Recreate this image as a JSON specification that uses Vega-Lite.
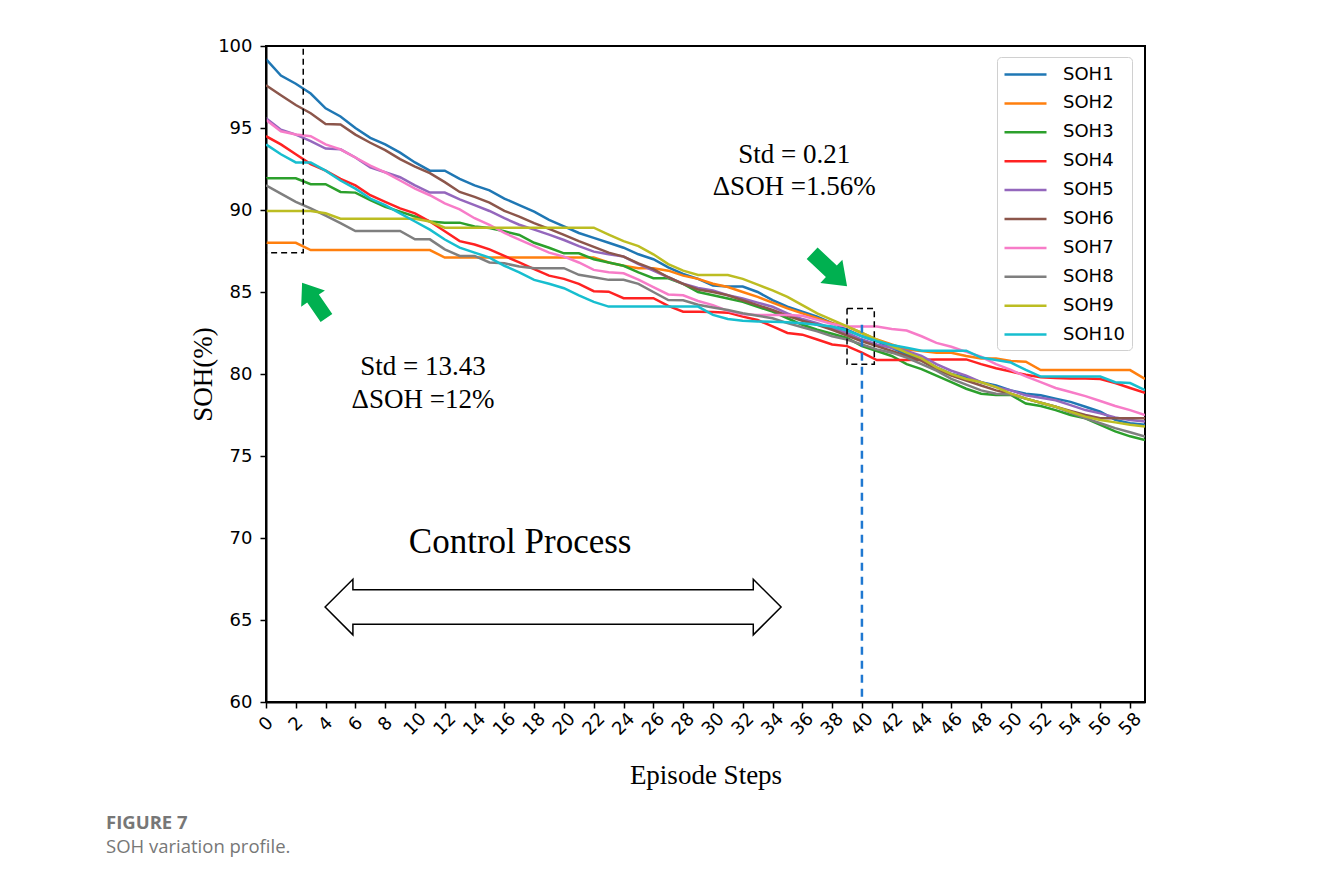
{
  "$schema": "https://vega.github.io/schema/vega-lite/v6.json",
  "width": 879,
  "height": 656,
  "autosize": {"type": "none"},
  "padding": {"left": 266, "top": 46, "right": 185, "bottom": 180},
  "background": "white",
  "title": {
    "text": "FIGURE 7",
    "subtitle": "SOH variation profile.",
    "orient": "bottom",
    "anchor": "start",
    "frame": "group",
    "dx": -160,
    "offset": 26,
    "font": "Open Sans",
    "fontSize": 18.5,
    "fontWeight": "bold",
    "color": "#777777",
    "subtitleFont": "Open Sans",
    "subtitleFontSize": 18.5,
    "subtitleColor": "#777777",
    "subtitlePadding": 5
  },
  "config": {
    "view": {"stroke": "black", "strokeWidth": 2},
    "axis": {
      "grid": false,
      "domainColor": "black",
      "domainWidth": 2,
      "tickColor": "black",
      "tickWidth": 1.5,
      "tickSize": 6,
      "labelFont": "DejaVu Sans",
      "labelFontSize": 18,
      "labelColor": "black",
      "titleFont": "Liberation Serif",
      "titleFontSize": 27,
      "titleFontWeight": "normal",
      "titleColor": "black",
      "labelOverlap": false
    }
  },
  "layer": [
    {
      "data": {
        "values": [
          {"t":0,"SOH1":99.2,"SOH2":88.0,"SOH3":91.93,"SOH4":94.5,"SOH5":95.6,"SOH6":97.6,"SOH7":95.5,"SOH8":91.5,"SOH9":89.94,"SOH10":94.0},
          {"t":1,"SOH1":98.2,"SOH2":88.0,"SOH3":91.93,"SOH4":94.0,"SOH5":94.9,"SOH6":97.0,"SOH7":94.8,"SOH8":91.0,"SOH9":89.94,"SOH10":93.4},
          {"t":2,"SOH1":97.7,"SOH2":88.0,"SOH3":91.93,"SOH4":93.4,"SOH5":94.6,"SOH6":96.4,"SOH7":94.6,"SOH8":90.5,"SOH9":89.94,"SOH10":92.9},
          {"t":3,"SOH1":97.1,"SOH2":87.56,"SOH3":91.57,"SOH4":92.8,"SOH5":94.2,"SOH6":95.9,"SOH7":94.5,"SOH8":90.1,"SOH9":89.94,"SOH10":92.89},
          {"t":4,"SOH1":96.2,"SOH2":87.56,"SOH3":91.57,"SOH4":92.4,"SOH5":93.75,"SOH6":95.25,"SOH7":94.0,"SOH8":89.65,"SOH9":89.8,"SOH10":92.4},
          {"t":5,"SOH1":95.7,"SOH2":87.56,"SOH3":91.1,"SOH4":91.9,"SOH5":93.7,"SOH6":95.22,"SOH7":93.7,"SOH8":89.2,"SOH9":89.47,"SOH10":91.8},
          {"t":6,"SOH1":95.0,"SOH2":87.56,"SOH3":91.06,"SOH4":91.5,"SOH5":93.2,"SOH6":94.6,"SOH7":93.2,"SOH8":88.72,"SOH9":89.47,"SOH10":91.3},
          {"t":7,"SOH1":94.4,"SOH2":87.56,"SOH3":90.6,"SOH4":90.9,"SOH5":92.6,"SOH6":94.1,"SOH7":92.7,"SOH8":88.72,"SOH9":89.47,"SOH10":90.7},
          {"t":8,"SOH1":94.0,"SOH2":87.56,"SOH3":90.2,"SOH4":90.5,"SOH5":92.3,"SOH6":93.65,"SOH7":92.3,"SOH8":88.72,"SOH9":89.47,"SOH10":90.3},
          {"t":9,"SOH1":93.5,"SOH2":87.56,"SOH3":89.9,"SOH4":90.1,"SOH5":92.0,"SOH6":93.1,"SOH7":91.8,"SOH8":88.72,"SOH9":89.47,"SOH10":89.8},
          {"t":10,"SOH1":92.9,"SOH2":87.56,"SOH3":89.6,"SOH4":89.8,"SOH5":91.5,"SOH6":92.65,"SOH7":91.3,"SOH8":88.21,"SOH9":89.47,"SOH10":89.3},
          {"t":11,"SOH1":92.4,"SOH2":87.56,"SOH3":89.3,"SOH4":89.3,"SOH5":91.06,"SOH6":92.25,"SOH7":90.9,"SOH8":88.21,"SOH9":89.3,"SOH10":88.8},
          {"t":12,"SOH1":92.4,"SOH2":87.1,"SOH3":89.23,"SOH4":88.7,"SOH5":91.06,"SOH6":91.7,"SOH7":90.4,"SOH8":87.6,"SOH9":88.92,"SOH10":88.2},
          {"t":13,"SOH1":91.9,"SOH2":87.1,"SOH3":89.23,"SOH4":88.1,"SOH5":90.65,"SOH6":91.1,"SOH7":90.04,"SOH8":87.2,"SOH9":88.92,"SOH10":87.7},
          {"t":14,"SOH1":91.5,"SOH2":87.1,"SOH3":89.0,"SOH4":87.9,"SOH5":90.3,"SOH6":90.8,"SOH7":89.5,"SOH8":87.2,"SOH9":88.92,"SOH10":87.4},
          {"t":15,"SOH1":91.2,"SOH2":87.1,"SOH3":88.9,"SOH4":87.6,"SOH5":89.94,"SOH6":90.45,"SOH7":89.1,"SOH8":86.8,"SOH9":88.92,"SOH10":87.1},
          {"t":16,"SOH1":90.7,"SOH2":87.1,"SOH3":88.7,"SOH4":87.2,"SOH5":89.5,"SOH6":89.95,"SOH7":88.6,"SOH8":86.75,"SOH9":88.92,"SOH10":86.6},
          {"t":17,"SOH1":90.3,"SOH2":87.1,"SOH3":88.48,"SOH4":86.8,"SOH5":89.1,"SOH6":89.6,"SOH7":88.2,"SOH8":86.55,"SOH9":88.92,"SOH10":86.2},
          {"t":18,"SOH1":89.9,"SOH2":87.1,"SOH3":88.0,"SOH4":86.4,"SOH5":88.8,"SOH6":89.2,"SOH7":87.8,"SOH8":86.45,"SOH9":88.92,"SOH10":85.74},
          {"t":19,"SOH1":89.4,"SOH2":87.1,"SOH3":87.7,"SOH4":86.0,"SOH5":88.5,"SOH6":88.85,"SOH7":87.4,"SOH8":86.45,"SOH9":88.92,"SOH10":85.5},
          {"t":20,"SOH1":89.0,"SOH2":87.1,"SOH3":87.36,"SOH4":85.8,"SOH5":88.17,"SOH6":88.48,"SOH7":87.16,"SOH8":86.45,"SOH9":88.92,"SOH10":85.23},
          {"t":21,"SOH1":88.6,"SOH2":87.1,"SOH3":87.36,"SOH4":85.5,"SOH5":87.8,"SOH6":88.1,"SOH7":86.8,"SOH8":86.05,"SOH9":88.92,"SOH10":84.8},
          {"t":22,"SOH1":88.3,"SOH2":87.1,"SOH3":87.0,"SOH4":85.05,"SOH5":87.46,"SOH6":87.75,"SOH7":86.35,"SOH8":85.9,"SOH9":88.92,"SOH10":84.4},
          {"t":23,"SOH1":88.0,"SOH2":86.8,"SOH3":86.8,"SOH4":85.02,"SOH5":87.3,"SOH6":87.4,"SOH7":86.2,"SOH8":85.74,"SOH9":88.5,"SOH10":84.11},
          {"t":24,"SOH1":87.7,"SOH2":86.6,"SOH3":86.6,"SOH4":84.62,"SOH5":87.16,"SOH6":87.16,"SOH7":86.14,"SOH8":85.74,"SOH9":88.1,"SOH10":84.11},
          {"t":25,"SOH1":87.3,"SOH2":86.45,"SOH3":86.2,"SOH4":84.62,"SOH5":86.7,"SOH6":86.75,"SOH7":85.75,"SOH8":85.5,"SOH9":87.8,"SOH10":84.11},
          {"t":26,"SOH1":87.0,"SOH2":86.45,"SOH3":85.84,"SOH4":84.62,"SOH5":86.3,"SOH6":86.4,"SOH7":85.3,"SOH8":85.0,"SOH9":87.3,"SOH10":84.11},
          {"t":27,"SOH1":86.5,"SOH2":86.3,"SOH3":85.84,"SOH4":84.15,"SOH5":85.9,"SOH6":85.9,"SOH7":84.85,"SOH8":84.51,"SOH9":86.7,"SOH10":84.11},
          {"t":28,"SOH1":86.1,"SOH2":86.0,"SOH3":85.5,"SOH4":83.8,"SOH5":85.5,"SOH6":85.5,"SOH7":84.8,"SOH8":84.5,"SOH9":86.3,"SOH10":84.11},
          {"t":29,"SOH1":85.8,"SOH2":85.8,"SOH3":85.0,"SOH4":83.8,"SOH5":85.25,"SOH6":85.15,"SOH7":84.45,"SOH8":84.22,"SOH9":86.04,"SOH10":84.11},
          {"t":30,"SOH1":85.4,"SOH2":85.5,"SOH3":84.8,"SOH4":83.78,"SOH5":85.1,"SOH6":85.0,"SOH7":84.2,"SOH8":84.05,"SOH9":86.04,"SOH10":83.6},
          {"t":31,"SOH1":85.33,"SOH2":85.3,"SOH3":84.6,"SOH4":83.74,"SOH5":84.8,"SOH6":84.8,"SOH7":83.85,"SOH8":83.9,"SOH9":86.04,"SOH10":83.35},
          {"t":32,"SOH1":85.33,"SOH2":85.0,"SOH3":84.4,"SOH4":83.5,"SOH5":84.6,"SOH6":84.5,"SOH7":83.65,"SOH8":83.7,"SOH9":85.8,"SOH10":83.25},
          {"t":33,"SOH1":85.0,"SOH2":84.7,"SOH3":84.1,"SOH4":83.29,"SOH5":84.35,"SOH6":84.2,"SOH7":83.6,"SOH8":83.55,"SOH9":85.45,"SOH10":83.2},
          {"t":34,"SOH1":84.5,"SOH2":84.35,"SOH3":83.8,"SOH4":82.9,"SOH5":84.1,"SOH6":83.9,"SOH7":83.6,"SOH8":83.4,"SOH9":85.1,"SOH10":83.19},
          {"t":35,"SOH1":84.1,"SOH2":84.0,"SOH3":83.4,"SOH4":82.5,"SOH5":83.7,"SOH6":83.55,"SOH7":83.6,"SOH8":83.1,"SOH9":84.7,"SOH10":83.15},
          {"t":36,"SOH1":83.8,"SOH2":83.7,"SOH3":83.0,"SOH4":82.4,"SOH5":83.35,"SOH6":83.25,"SOH7":83.55,"SOH8":82.85,"SOH9":84.2,"SOH10":83.1},
          {"t":37,"SOH1":83.5,"SOH2":83.4,"SOH3":82.7,"SOH4":82.1,"SOH5":83.1,"SOH6":83.0,"SOH7":83.3,"SOH8":82.6,"SOH9":83.7,"SOH10":83.0},
          {"t":38,"SOH1":83.1,"SOH2":83.1,"SOH3":82.45,"SOH4":81.8,"SOH5":82.8,"SOH6":82.7,"SOH7":83.05,"SOH8":82.3,"SOH9":83.3,"SOH10":82.9},
          {"t":39,"SOH1":82.7,"SOH2":82.9,"SOH3":82.2,"SOH4":81.7,"SOH5":82.5,"SOH6":82.35,"SOH7":82.9,"SOH8":82.1,"SOH9":82.9,"SOH10":82.65},
          {"t":40,"SOH1":82.3,"SOH2":82.5,"SOH3":81.7,"SOH4":81.3,"SOH5":82.1,"SOH6":82.0,"SOH7":82.9,"SOH8":81.8,"SOH9":82.5,"SOH10":82.3},
          {"t":41,"SOH1":82.0,"SOH2":82.1,"SOH3":81.4,"SOH4":80.85,"SOH5":81.8,"SOH6":81.7,"SOH7":82.89,"SOH8":81.5,"SOH9":82.1,"SOH10":82.0},
          {"t":42,"SOH1":81.6,"SOH2":81.8,"SOH3":81.1,"SOH4":80.85,"SOH5":81.6,"SOH6":81.4,"SOH7":82.75,"SOH8":81.3,"SOH9":81.7,"SOH10":81.77},
          {"t":43,"SOH1":81.2,"SOH2":81.5,"SOH3":80.6,"SOH4":80.85,"SOH5":81.4,"SOH6":81.1,"SOH7":82.65,"SOH8":81.0,"SOH9":81.3,"SOH10":81.6},
          {"t":44,"SOH1":80.9,"SOH2":81.4,"SOH3":80.3,"SOH4":80.87,"SOH5":81.1,"SOH6":80.8,"SOH7":82.3,"SOH8":80.6,"SOH9":80.95,"SOH10":81.42},
          {"t":45,"SOH1":80.4,"SOH2":81.3,"SOH3":79.9,"SOH4":80.89,"SOH5":80.6,"SOH6":80.3,"SOH7":81.9,"SOH8":80.2,"SOH9":80.4,"SOH10":81.42},
          {"t":46,"SOH1":80.0,"SOH2":81.3,"SOH3":79.5,"SOH4":80.89,"SOH5":80.2,"SOH6":79.9,"SOH7":81.66,"SOH8":79.7,"SOH9":80.0,"SOH10":81.42},
          {"t":47,"SOH1":79.8,"SOH2":81.1,"SOH3":79.1,"SOH4":80.89,"SOH5":79.9,"SOH6":79.6,"SOH7":81.35,"SOH8":79.35,"SOH9":79.7,"SOH10":81.42},
          {"t":48,"SOH1":79.5,"SOH2":80.95,"SOH3":78.8,"SOH4":80.6,"SOH5":79.5,"SOH6":79.3,"SOH7":81.05,"SOH8":79.0,"SOH9":79.5,"SOH10":81.0},
          {"t":49,"SOH1":79.3,"SOH2":80.95,"SOH3":78.72,"SOH4":80.35,"SOH5":79.2,"SOH6":79.0,"SOH7":80.6,"SOH8":78.8,"SOH9":79.2,"SOH10":80.85},
          {"t":50,"SOH1":79.0,"SOH2":80.8,"SOH3":78.72,"SOH4":80.15,"SOH5":79.0,"SOH6":78.8,"SOH7":80.25,"SOH8":78.75,"SOH9":78.8,"SOH10":80.7},
          {"t":51,"SOH1":78.8,"SOH2":80.75,"SOH3":78.2,"SOH4":79.95,"SOH5":78.7,"SOH6":78.5,"SOH7":79.85,"SOH8":78.5,"SOH9":78.5,"SOH10":80.25},
          {"t":52,"SOH1":78.7,"SOH2":80.24,"SOH3":78.05,"SOH4":79.8,"SOH5":78.55,"SOH6":78.25,"SOH7":79.5,"SOH8":78.25,"SOH9":78.25,"SOH10":79.84},
          {"t":53,"SOH1":78.5,"SOH2":80.24,"SOH3":77.8,"SOH4":79.75,"SOH5":78.4,"SOH6":78.0,"SOH7":79.15,"SOH8":78.0,"SOH9":78.0,"SOH10":79.84},
          {"t":54,"SOH1":78.3,"SOH2":80.24,"SOH3":77.5,"SOH4":79.73,"SOH5":78.1,"SOH6":77.75,"SOH7":78.9,"SOH8":77.65,"SOH9":77.7,"SOH10":79.84},
          {"t":55,"SOH1":78.0,"SOH2":80.24,"SOH3":77.3,"SOH4":79.73,"SOH5":77.8,"SOH6":77.5,"SOH7":78.65,"SOH8":77.3,"SOH9":77.4,"SOH10":79.84},
          {"t":56,"SOH1":77.7,"SOH2":80.24,"SOH3":76.9,"SOH4":79.7,"SOH5":77.6,"SOH6":77.3,"SOH7":78.35,"SOH8":77.0,"SOH9":77.2,"SOH10":79.84},
          {"t":57,"SOH1":77.2,"SOH2":80.24,"SOH3":76.5,"SOH4":79.45,"SOH5":77.35,"SOH6":77.3,"SOH7":78.05,"SOH8":76.7,"SOH9":77.05,"SOH10":79.5},
          {"t":58,"SOH1":77.0,"SOH2":80.24,"SOH3":76.2,"SOH4":79.15,"SOH5":77.2,"SOH6":77.3,"SOH7":77.8,"SOH8":76.45,"SOH9":76.9,"SOH10":79.45},
          {"t":59,"SOH1":76.9,"SOH2":79.7,"SOH3":75.97,"SOH4":78.86,"SOH5":77.1,"SOH6":77.3,"SOH7":77.5,"SOH8":76.18,"SOH9":76.8,"SOH10":79.02}
        ]
      },
      "transform": [
        {"fold": ["SOH1","SOH2","SOH3","SOH4","SOH5","SOH6","SOH7","SOH8","SOH9","SOH10"], "as": ["series","soh"]}
      ],
      "mark": {"type": "line", "strokeWidth": 2.5, "clip": true},
      "encoding": {
        "x": {
          "field": "t",
          "type": "quantitative",
          "scale": {"domain": [0, 59], "nice": false, "zero": false},
          "axis": {
            "title": "Episode Steps",
            "values": [0,2,4,6,8,10,12,14,16,18,20,22,24,26,28,30,32,34,36,38,40,42,44,46,48,50,52,54,56,58],
            "tickCount": 100,
            "format": "d",
            "labelAngle": -45,
            "labelAlign": "center",
            "labelBaseline": "middle",
            "labelPadding": 16,
            "titlePadding": 24,
            "labelOverlap": false
          }
        },
        "y": {
          "field": "soh",
          "type": "quantitative",
          "scale": {"domain": [60, 100], "nice": false, "zero": false},
          "axis": {
            "title": "SOH(%)",
            "values": [60,65,70,75,80,85,90,95,100],
            "tickCount": 100,
            "format": "d",
            "labelPadding": 8,
            "titlePadding": 0
          }
        },
        "color": {
          "field": "series",
          "type": "nominal",
          "scale": {
            "domain": ["SOH1","SOH2","SOH3","SOH4","SOH5","SOH6","SOH7","SOH8","SOH9","SOH10"],
            "range": ["#1f77b4","#ff7f0e","#2ca02c","#ff2222","#9467bd","#8c564b","#f77cc8","#7f7f7f","#bcbd22","#17becf"]
          },
          "legend": {
            "orient": "none",
            "legendX": 731,
            "legendY": 11,
            "title": null,
            "symbolType": "M -2.1 0 L 2.1 0",
            "symbolSize": 400,
            "symbolStrokeWidth": 2.5,
            "symbolOffset": 11,
            "labelOffset": 26,
            "padding": 6,
            "rowPadding": 7.9,
            "labelFont": "DejaVu Sans",
            "labelFontSize": 18,
            "labelColor": "black",
            "strokeColor": "#d0d0d0",
            "fillColor": "white",
            "cornerRadius": 4
          }
        }
      }
    },
    {
      "data": {"values": [{"x0": 0, "x1": 2.5, "y0": 100, "y1": 87.4}, {"x0": 39.0, "x1": 40.83, "y0": 84.0, "y1": 80.6}]},
      "mark": {"type": "rect", "fillOpacity": 0, "stroke": "black", "strokeWidth": 1.5, "strokeDash": [6, 4]},
      "encoding": {
        "x": {"field": "x0", "type": "quantitative"},
        "x2": {"field": "x1"},
        "y": {"field": "y0", "type": "quantitative"},
        "y2": {"field": "y1"}
      }
    },
    {
      "data": {"values": [{"x": 40, "ya": 83.0, "yb": 60}]},
      "mark": {"type": "rule", "color": "#1f78d1", "strokeWidth": 2.5, "strokeDash": [8, 6]},
      "encoding": {
        "x": {"field": "x", "type": "quantitative"},
        "y": {"field": "ya", "type": "quantitative"},
        "y2": {"field": "yb"}
      }
    },
    {
      "data": {"values": [
        {"x": 10.54, "y": 80.43, "label": "Std = 13.43"},
        {"x": 10.54, "y": 78.41, "label": "ΔSOH =12%"},
        {"x": 35.46, "y": 93.35, "label": "Std = 0.21"},
        {"x": 35.46, "y": 91.4, "label": "ΔSOH =1.56%"}
      ]},
      "mark": {"type": "text", "font": "Liberation Serif", "fontSize": 27, "color": "black", "align": "center", "baseline": "middle"},
      "encoding": {
        "x": {"field": "x", "type": "quantitative"},
        "y": {"field": "y", "type": "quantitative"},
        "text": {"field": "label"}
      }
    },
    {
      "data": {"values": [{"x": 17.06, "y": 69.76, "label": "Control Process"}]},
      "mark": {"type": "text", "font": "Liberation Serif", "fontSize": 35, "color": "black", "align": "center", "baseline": "middle"},
      "encoding": {
        "x": {"field": "x", "type": "quantitative"},
        "y": {"field": "y", "type": "quantitative"},
        "text": {"field": "label"}
      }
    },
    {
      "data": {"values": [{"x": 19.27, "y": 65.79}]},
      "mark": {"type": "point", "shape": "M -1 0 L -0.878 -0.122 L -0.878 -0.076 L 0.878 -0.076 L 0.878 -0.122 L 1 0 L 0.878 0.122 L 0.878 0.076 L -0.878 0.076 L -0.878 0.122 Z", "size": 207936, "filled": true, "fill": "white", "stroke": "black", "strokeWidth": 1.5, "opacity": 1},
      "encoding": {
        "x": {"field": "x", "type": "quantitative"},
        "y": {"field": "y", "type": "quantitative"}
      }
    },
    {
      "data": {"values": [{"x": 3.24, "y": 84.49}]},
      "mark": {"type": "point", "shape": "M -1 -0.33 L 0.1 -0.33 L 0.1 -0.67 L 1 0 L 0.1 0.67 L 0.1 0.33 L -1 0.33 Z", "size": 1849, "angle": 235.5, "filled": true, "fill": "#00b050", "strokeWidth": 0, "opacity": 1},
      "encoding": {
        "x": {"field": "x", "type": "quantitative"},
        "y": {"field": "y", "type": "quantitative"}
      }
    },
    {
      "data": {"values": [{"x": 37.83, "y": 86.36}]},
      "mark": {"type": "point", "shape": "M -1 -0.33 L 0.1 -0.33 L 0.1 -0.67 L 1 0 L 0.1 0.67 L 0.1 0.33 L -1 0.33 Z", "size": 2304, "angle": 43.3, "filled": true, "fill": "#00b050", "strokeWidth": 0, "opacity": 1},
      "encoding": {
        "x": {"field": "x", "type": "quantitative"},
        "y": {"field": "y", "type": "quantitative"}
      }
    }
  ]
}
